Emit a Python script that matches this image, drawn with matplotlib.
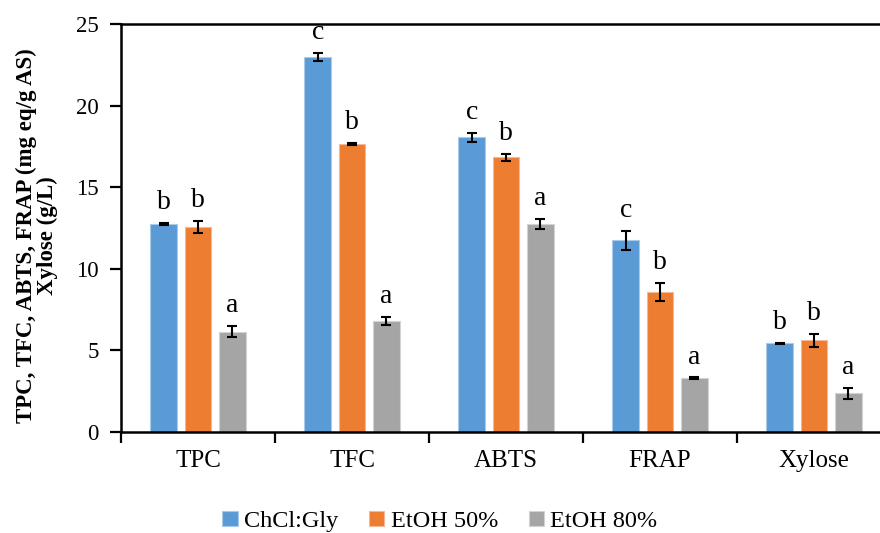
import matplotlib
matplotlib.use("Agg")
import matplotlib.pyplot as plt
import numpy as np

categories = ["TPC", "TFC", "ABTS", "FRAP", "Xylose"]
series = ["ChCl:Gly", "EtOH 50%", "EtOH 80%"]
values = {
    "ChCl:Gly": [12.75, 23.0, 18.06, 11.74, 5.43],
    "EtOH 50%": [12.56, 17.65, 16.83, 8.56, 5.62],
    "EtOH 80%": [6.15, 6.82, 12.75, 3.29, 2.37],
}
errors = {
    "ChCl:Gly": [0.05, 0.25, 0.26, 0.58, 0.03],
    "EtOH 50%": [0.35, 0.05, 0.20, 0.56, 0.39],
    "EtOH 80%": [0.33, 0.25, 0.30, 0.05, 0.34],
}
letters = {
    "ChCl:Gly": ["b", "c", "c", "c", "b"],
    "EtOH 50%": ["b", "b", "b", "b", "b"],
    "EtOH 80%": ["a", "a", "a", "a", "a"],
}
colors = ["#5B9BD5", "#ED7D31", "#A5A5A5"]
edgecolors = ["#A9CBEB", "#F5B894", "#D3D3D3"]

plt.rcParams['font.family'] = ['Liberation Serif', 'DejaVu Serif']

fig = plt.figure(figsize=(8.8, 5.33), dpi=100)
ax = fig.add_axes([121/880, 1-432/533, 770/880, 408/533])

x = np.arange(len(categories)) + 0.5
width = 0.173
step = 0.222
for i, s in enumerate(series):
    xs = x + (i - 1) * step
    ax.bar(xs, values[s], width=width, color=colors[i], edgecolor=edgecolors[i],
           linewidth=0.8, label=s, zorder=2)
    ax.errorbar(xs, values[s], yerr=errors[s], fmt='none', ecolor='black',
                elinewidth=1.5, capsize=3.6, capthick=1.5, zorder=3)
    for xi, v, e, l in zip(xs, values[s], errors[s], letters[s]):
        ax.annotate(l, (xi, v + e), xytext=(0, 10), textcoords='offset points',
                    ha='center', va='baseline', fontsize=20)

ax.set_xlim(0, len(categories))
ax.set_ylim(0, 25)
ax.set_yticks([0, 5, 10, 15, 20, 25])
ax.set_xticks(np.arange(len(categories) + 1), minor=False)
ax.set_xticklabels([])
ax.set_xticks(x, minor=True)
ax.set_xticklabels(categories, minor=True, fontsize=18)
ax.tick_params(axis='x', which='minor', length=0, pad=13)
ax.tick_params(axis='x', which='major', length=8, width=1.6, direction='out')
ax.tick_params(axis='y', length=8, width=1.6, direction='out', labelsize=16.5, pad=8)

for sp in ['left', 'bottom', 'top']:
    ax.spines[sp].set_linewidth(1.8)
ax.spines['right'].set_visible(False)

ax.set_ylabel("TPC, TFC, ABTS, FRAP (mg eq/g AS)\nXylose (g/L)", fontsize=16.5,
              fontweight='bold', linespacing=0.95)
ax.yaxis.set_label_coords(-0.082, 0.482)

handles, labels = ax.get_legend_handles_labels()
leg = fig.legend(handles, labels, loc='center', bbox_to_anchor=(0.5, 0.022),
                 ncol=3, frameon=False, fontsize=17.5, handlelength=0.62,
                 handleheight=0.62, handletextpad=0.28, columnspacing=1.25,
                 borderpad=0.2)

fig.savefig("out.png", dpi=100)
